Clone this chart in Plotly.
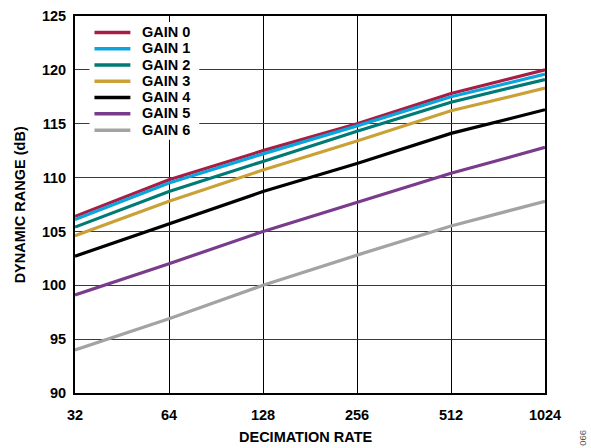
import plotly.graph_objects as go

# ---- data ----
decimation = [32, 64, 128, 256, 512, 1024]
gain0 = [106.4, 109.8, 112.5, 115.0, 117.8, 120.0]
gain1 = [106.1, 109.5, 112.2, 114.8, 117.5, 119.6]
gain2 = [105.4, 108.7, 111.5, 114.3, 117.0, 119.1]
gain3 = [104.6, 107.8, 110.7, 113.4, 116.2, 118.3]
gain4 = [102.7, 105.7, 108.7, 111.3, 114.1, 116.3]
gain5 = [99.1, 102.0, 105.0, 107.7, 110.4, 112.8]
gain6 = [94.0, 96.9, 100.0, 102.8, 105.5, 107.8]
series_names = ["GAIN 0", "GAIN 1", "GAIN 2", "GAIN 3", "GAIN 4", "GAIN 5", "GAIN 6"]
x_ticks = [32, 64, 128, 256, 512, 1024]
y_ticks = [90, 95, 100, 105, 110, 115, 120, 125]

series = [gain0, gain1, gain2, gain3, gain4, gain5, gain6]
colors = ["#A81D45", "#0AA5DC", "#007A74", "#C9A136", "#000000", "#7A3B8D", "#A3A3A3"]

W, H = 591, 448
L, R, T, B = 74.5, 545.5, 16, 393.5
FONT = "Liberation Sans, Arial, Helvetica, sans-serif"


def px(xp):
    return (xp - L) / (R - L)


def py(yp):
    return (B - yp) / (B - T)


fig = go.Figure()
for name, vals, col in zip(series_names, series, colors):
    fig.add_trace(go.Scatter(x=decimation, y=vals, mode="lines", name=name,
                             line=dict(color=col, width=3.2), showlegend=False,
                             hoverinfo="skip"))

shapes = []
annotations = []
# legend background
shapes.append(dict(type="rect", xref="paper", yref="paper",
                   x0=px(89), x1=px(199), y0=py(140), y1=py(22),
                   fillcolor="white", line=dict(width=0), layer="above"))
for i, (name, col) in enumerate(zip(series_names, colors)):
    yy = 32.5 + 16.3 * i
    shapes.append(dict(type="line", xref="paper", yref="paper",
                       x0=px(94), x1=px(130), y0=py(yy), y1=py(yy),
                       line=dict(color=col, width=3.5), layer="above"))
    annotations.append(dict(xref="paper", yref="paper", x=px(140), y=py(yy - 0.5),
                            text=name, showarrow=False, xanchor="left", yanchor="middle",
                            font=dict(family=FONT, size=14.5, color="black", weight="bold")))

annotations.append(dict(xref="paper", yref="paper", x=px(306), y=py(438),
                        text="DECIMATION RATE", showarrow=False, xanchor="center", yanchor="middle",
                        font=dict(family=FONT, size=14.5, color="black", weight="bold")))
annotations.append(dict(xref="paper", yref="paper", x=px(19), y=py(205),
                        text="DYNAMIC RANGE (dB)", showarrow=False, textangle=-90,
                        xanchor="center", yanchor="middle",
                        font=dict(family=FONT, size=14.5, color="black", weight="bold")))
annotations.append(dict(xref="paper", yref="paper", x=px(583), y=py(438),
                        text="066", showarrow=False, textangle=-90,
                        xanchor="center", yanchor="middle",
                        font=dict(family=FONT, size=9.5, color="#555555")))

fig.update_layout(
    width=W, height=H,
    margin=dict(l=L, r=W - R, t=T, b=H - B, pad=0, autoexpand=False),
    paper_bgcolor="white", plot_bgcolor="white",
    shapes=shapes, annotations=annotations,
    showlegend=False,
    font=dict(family=FONT, size=14.5, color="black"),
)
fig.update_xaxes(type="log", range=[1.50515, 3.0103], tickvals=x_ticks,
                 ticktext=[str(v) for v in x_ticks], automargin=False,
                 showgrid=True, gridcolor="black", gridwidth=1.3,
                 showline=True, linecolor="black", linewidth=2, mirror=True,
                 ticks="outside", ticklen=8, tickcolor="rgba(0,0,0,0)",
                 zeroline=False,
                 tickfont=dict(family=FONT, size=14.5, color="black", weight="bold"))
fig.update_yaxes(range=[90, 125], tickvals=y_ticks, automargin=False,
                 showgrid=True, gridcolor="#3a3a3a", gridwidth=1.3,
                 showline=True, linecolor="black", linewidth=2, mirror=True,
                 ticks="outside", ticklen=4, tickcolor="rgba(0,0,0,0)",
                 zeroline=False,
                 tickfont=dict(family=FONT, size=14.5, color="black", weight="bold"))

fig.write_html("out.html", config={"displayModeBar": False},
               post_script="document.body.style.margin='0';document.body.style.padding='0';")
